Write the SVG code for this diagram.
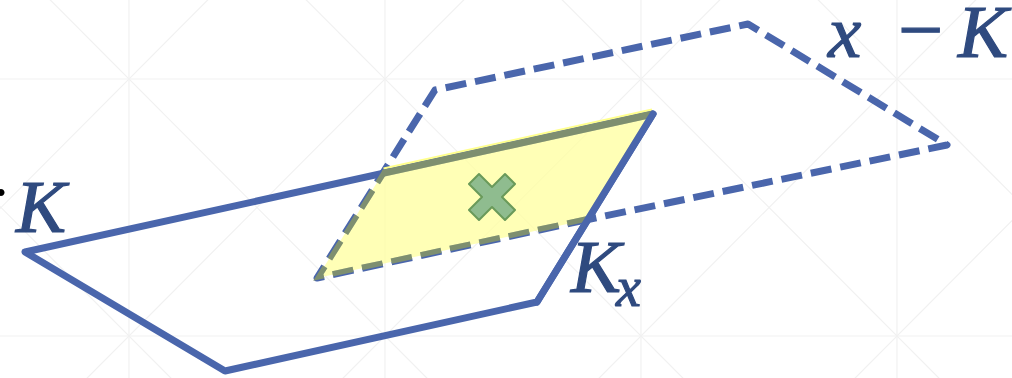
<svg xmlns="http://www.w3.org/2000/svg" width="1012" height="378" viewBox="0 0 1012 378">
  <style>
    .grid { stroke: #F1F1F1; stroke-width: 1.2; fill: none; }
    .blue { stroke: #4A66AC; stroke-width: 7; fill: none; stroke-linejoin: round; stroke-linecap: round; }
    .dash { stroke-dasharray: 21 9; stroke-linecap: butt; }
    .olive { stroke: #7E8F70; stroke-width: 7; fill: none; }
    .lbl { font-family: "Liberation Serif", "DejaVu Serif", serif; font-style: italic; fill: #2F4A7F; stroke: #2F4A7F; stroke-width: 1.2; }
  </style>
  <defs>
    <clipPath id="kxclip">
      <polygon points="313.2,280.7 382,171 655,111 591,220.7"/>
    </clipPath>
  </defs>
  <rect width="1012" height="378" fill="#FFFFFF"/>
  <g id="grid" class="grid">
    <line x1="129" y1="0" x2="129" y2="378"/>
    <line x1="385" y1="0" x2="385" y2="378"/>
    <line x1="641" y1="0" x2="641" y2="378"/>
    <line x1="897" y1="0" x2="897" y2="378"/>
    <line x1="0" y1="79" x2="1012" y2="79"/>
    <line x1="0" y1="336" x2="1012" y2="336"/>
    <line x1="-639" y1="-178" x2="129" y2="593"/>
    <line x1="-383" y1="-178" x2="385" y2="593"/>
    <line x1="-127" y1="-178" x2="641" y2="593"/>
    <line x1="129" y1="-178" x2="897" y2="593"/>
    <line x1="385" y1="-178" x2="1153" y2="593"/>
    <line x1="641" y1="-178" x2="1409" y2="593"/>
    <line x1="897" y1="-178" x2="1665" y2="593"/>
    <line x1="129" y1="-178" x2="-639" y2="593"/>
    <line x1="385" y1="-178" x2="-383" y2="593"/>
    <line x1="641" y1="-178" x2="-127" y2="593"/>
    <line x1="897" y1="-178" x2="129" y2="593"/>
    <line x1="1153" y1="-178" x2="385" y2="593"/>
    <line x1="1409" y1="-178" x2="641" y2="593"/>
    <line x1="1665" y1="-178" x2="897" y2="593"/>
  </g>
  <g id="K">
    <path class="blue" d="M25,252 L225,371 L537,302 L653,114 Z"/>
  </g>
  <g id="x-minus-K">
    <path class="blue dash" d="M587.9,219.5 L317,278 L435,90 L748,24 L947,145 L587.9,219.5"/>
  </g>
  <g id="Kx">
    <polygon points="317,278 382.7,173.4 653,114 587.9,219.5" fill="#FFFF9E" fill-opacity="0.75"/>
    <line x1="383.5" y1="168.6" x2="652" y2="109.6" stroke="#FFFF8C" stroke-width="2"/>
    <path class="olive dash" clip-path="url(#kxclip)" d="M587.9,219.5 L317,278 L435,90 L748,24 L947,145 L587.9,219.5"/>
    <line class="olive" x1="382.7" y1="173.4" x2="653" y2="114"/>
    <line class="blue" x1="537" y1="302" x2="653" y2="114"/>
  </g>
  <g id="cross">
    <polygon transform="translate(492,197)" points="-13,-23 0,-10 13,-23 23,-13 10,0 23,13 13,23 0,10 -13,23 -23,13 -10,0 -23,-13" fill="#8FBC8F" stroke="#6A9A5A" stroke-width="2" stroke-linejoin="round"/>
  </g>
  <g id="labels">
    <text x="1" y="212" font-family="Liberation Serif, serif" font-size="60" fill="#000000" text-anchor="middle">·</text>
    <text class="lbl" x="16" y="232" font-size="75">K</text>
    <text class="lbl" x="828" y="57" font-size="75">x</text>
    <text class="lbl" x="893" y="57" font-size="80" font-style="normal">−</text>
    <text class="lbl" x="958" y="57" font-size="75">K</text>
    <text class="lbl" x="571" y="292" font-size="75">K</text>
    <text class="lbl" x="616" y="306" font-size="56">x</text>
  </g>
</svg>
